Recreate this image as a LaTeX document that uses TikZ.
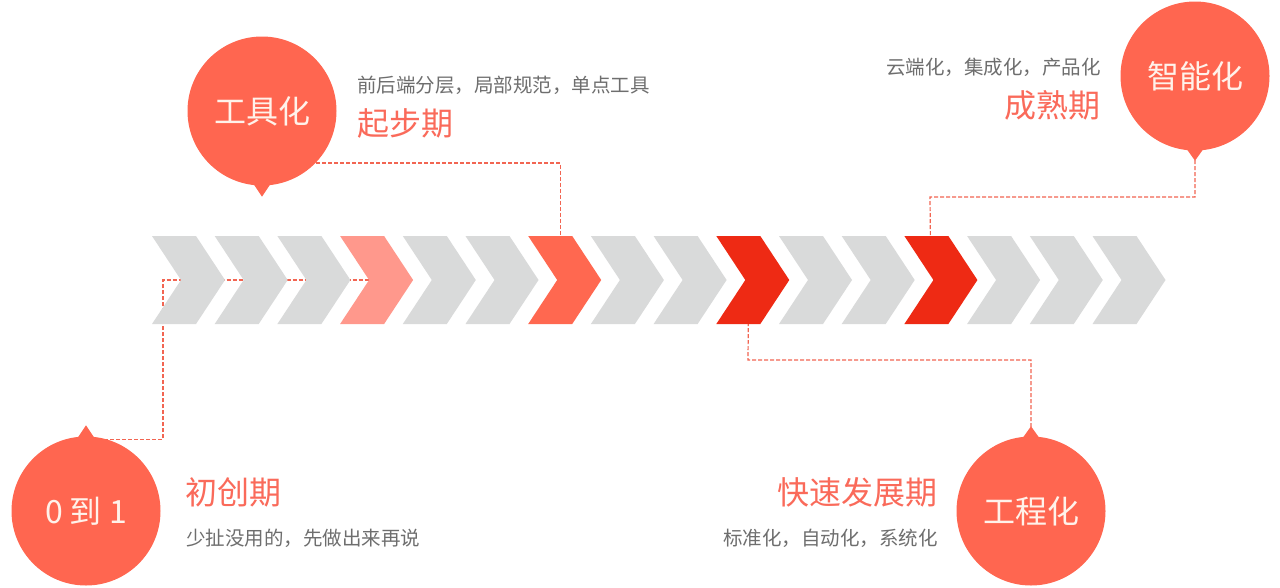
\documentclass[tikz,border=0pt]{standalone}
\usepackage{fontspec}
\newfontfamily\cjk{Noto Sans CJK SC}
\usetikzlibrary{backgrounds}
\definecolor{chevgray}{HTML}{D9DADA}
\definecolor{chevpink}{HTML}{FF988C}
\definecolor{chevorange}{HTML}{FF6850}
\definecolor{chevred}{HTML}{EE2A14}
\definecolor{bubblered}{HTML}{FF6650}
\definecolor{bubbletext}{HTML}{FFF2EA}
\definecolor{stagered}{HTML}{FA6A5A}
\definecolor{notegray}{HTML}{6E6E6E}
\definecolor{linkred}{HTML}{F26552}
\tikzset{
    bubble/.style = {circle, fill=bubblered, minimum size=149pt, inner sep=0pt, text=bubbletext, font=\cjk\fontsize{32}{38}\selectfont},
    stage/.style = {inner sep=0pt, text=stagered, font=\cjk\fontsize{32}{38}\selectfont},
    note/.style = {inner sep=0pt, text=notegray, font=\cjk\fontsize{19.5}{24}\selectfont},
    link/.style = {draw=linkred, line width=1.2pt, dash pattern=on 4pt off 2pt}
}
\begin{document}
\begin{tikzpicture}[x=1pt, y=-1pt]
\useasboundingbox (0,0) rectangle (1280,587);

% chevron band
\foreach \c [count=\n from 0] in {chevgray,chevgray,chevgray,chevpink,chevgray,chevgray,chevorange,chevgray,chevgray,chevred,chevgray,chevgray,chevred,chevgray,chevgray,chevgray}{
    \coordinate (ch\n) at ({152+62.7*\n},236);
    \fill[\c] (ch\n) -- ++(44,0) -- ++(29,44) -- ++(-29,44) -- ++(-44,0) -- ++(29,-44) -- cycle;
}
\coordinate (bend1) at (163,280);
\coordinate (bend3) at (930,197);
\coordinate (bend4) at (748,360);

% bubbles
\node[bubble] (start) at (86,511) {0 到 1};
\node[bubble] (tool) at (262,111) {工具化};
\node[bubble] (smart) at (1195,76) {智能化};
\node[bubble] (eng) at (1031,511) {工程化};
\fill[bubblered, shift={(start.north)}] (-10,4) -- (0,-11) -- (10,4) -- cycle;
\fill[bubblered, shift={(eng.north)}] (-10,4) -- (0,-10) -- (10,4) -- cycle;
\fill[bubblered, shift={(tool.south)}] (-10,-4) -- (0,11) -- (10,-4) -- cycle;
\fill[bubblered, shift={(smart.south)}] (-10,-4) -- (0,10) -- (10,-4) -- cycle;

% stage titles and notes
\node[stage, anchor=west] (t1) at (185,492) {初创期};
\node[note, anchor=west] (d1) at (186,538) {少扯没用的，先做出来再说};
\node[stage, anchor=west] (t2) at (357,123) {起步期};
\node[note, anchor=west] (d2) at (357,85) {前后端分层，局部规范，单点工具};
\node[stage, anchor=east] (t3) at (1101,105) {成熟期};
\node[note, anchor=east] (d3) at (1101,67) {云端化，集成化，产品化};
\node[stage, anchor=east] (t4) at (938,492) {快速发展期};
\node[note, anchor=east] (d4) at (938,538) {标准化，自动化，系统化};

% dashed links behind everything
\begin{scope}[on background layer]
\fill[white] (0,0) rectangle (1280,587);
\draw[link] ([yshift=-3pt]start.north) -| (bend1) -- ([shift={(29,44)}]ch3);
\draw[link] ([yshift=-52pt]tool.center) -| ([xshift=32pt]ch6);
\draw[link] (smart.center) |- (bend3) -- ([xshift=26pt]ch12);
\draw[link] (eng.center) |- (bend4) -- ([shift={(32,88)}]ch9);
\end{scope}
\end{tikzpicture}
\end{document}
